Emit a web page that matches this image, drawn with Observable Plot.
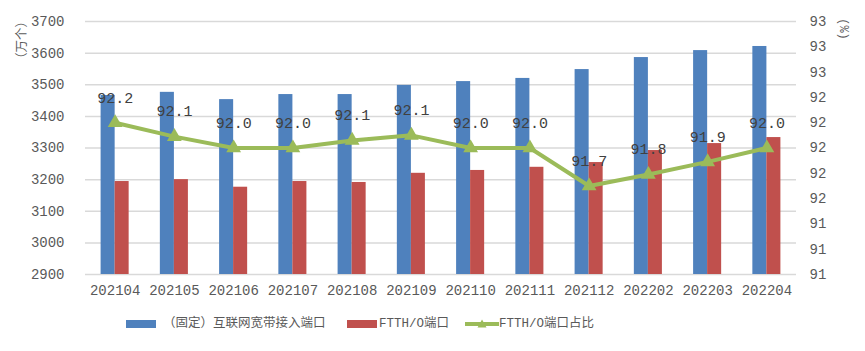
<!DOCTYPE html>
<html>
<head>
<meta charset="utf-8">
<script src="https://cdn.jsdelivr.net/npm/d3@7"></script>
<script src="https://cdn.jsdelivr.net/npm/@observablehq/plot@0.6"></script>
<style>
  body { margin: 0; background: #fff; }
  #wrap { width: 865px; position: relative; }
  #legend { position: relative; width: 865px; height: 46px; font-family: "Liberation Mono", "Noto Sans CJK SC", sans-serif; font-size: 12.5px; color: #595959; }
  #legend .sw { position: absolute; }
  #legend .lb { position: absolute; line-height: 14px; white-space: nowrap; }
  .atitle { position: absolute; white-space: nowrap; color: #595959; line-height: 14px; transform-origin: center center; }
</style>
</head>
<body>
<div id="wrap"><div id="chart"></div><div id="legend"></div></div>
<script>
const months = ["202104","202105","202106","202107","202108","202109","202110","202111","202112","202202","202203","202204"];
const broadband = [3466, 3476, 3453, 3469, 3469, 3498, 3510, 3520, 3548, 3586, 3608, 3621];
const ftth = [3194, 3200, 3176, 3194, 3191, 3220, 3229, 3239, 3254, 3292, 3314, 3333];
const ratio = [92.20, 92.09, 92.00, 92.00, 92.06, 92.10, 92.00, 92.00, 91.70, 91.79, 91.89, 92.00];
const leftTicks = [2900, 3000, 3100, 3200, 3300, 3400, 3500, 3600, 3700];
const rightTicks = [91.0, 91.2, 91.4, 91.6, 91.8, 92.0, 92.2, 92.4, 92.6, 92.8, 93.0];
const seriesNames = ["（固定）互联网宽带接入端口", "FTTH/O端口", "FTTH/O端口占比"];
const leftTitle = "（万个）";
const rightTitle = "(%)";

const colors = ["#4F81BD", "#C0504D", "#9BBB59"];
const L0 = 2900, L1 = 3700, R0 = 91, R1 = 93;
const toLeft = r => L0 + (r - R0) / (R1 - R0) * (L1 - L0);
const fromLeft = v => R0 + (v - L0) / (L1 - L0) * (R1 - R0);

const rows = months.map((m, i) => ({month: m, broadband: broadband[i], ftth: ftth[i], ratio: ratio[i]}));
const fmt1 = d3.format(".1f");
const fmt0 = d3.format(".0f");

const chart = Plot.plot({
  width: 865, height: 305,
  marginLeft: 85, marginRight: 69, marginTop: 21, marginBottom: 31,
  x: {type: "band", domain: months, padding: 0, round: false, label: null},
  y: {domain: [L0, L1], label: null},
  style: {fontFamily: "Liberation Mono, DejaVu Sans Mono, monospace", fontSize: "14px", color: "#595959", background: "white", overflow: "visible"},
  marks: [
    Plot.gridY(leftTicks, {stroke: "#D9D9D9", strokeOpacity: 1, strokeWidth: 1.5}),
    Plot.axisY({ticks: leftTicks, tickSize: 0, tickPadding: 21, label: null, fill: "#595959", tickFormat: d3.format("d")}),
    Plot.axisY(rightTicks.map(toLeft), {anchor: "right", tickSize: 0, tickPadding: 13, label: null, fill: "#595959", tickFormat: d => fmt0(fromLeft(d))}),
    Plot.axisX({tickSize: 0, tickPadding: 11, label: null, fill: "#595959"}),
    Plot.barY(rows, {x: "month", y1: L0, y2: "broadband", fill: colors[0], insetLeft: 15.6, insetRight: 29.6}),
    Plot.barY(rows, {x: "month", y1: L0, y2: "ftth", fill: colors[1], insetLeft: 29.6, insetRight: 15.6}),
    Plot.line(rows, {x: "month", y: d => toLeft(d.ratio), stroke: colors[2], strokeWidth: 4}),
    Plot.dot(rows, {x: "month", y: d => toLeft(d.ratio), symbol: "triangle", r: 5.5, fill: colors[2], stroke: null}),
    Plot.text(rows, {x: "month", y: d => toLeft(d.ratio), text: d => fmt1(d.ratio), dy: -25, fill: "#404040", fontSize: 15})
  ]
});
document.getElementById("chart").appendChild(chart);

// axis titles (rotated, positioned over the chart)
const wrap = document.getElementById("wrap");
function addTitle(txt, cx, cy, rot, font, size) {
  const d = document.createElement("div");
  d.className = "atitle";
  d.textContent = txt;
  d.style.fontFamily = font;
  d.style.fontSize = size + "px";
  wrap.appendChild(d);
  const w = d.offsetWidth, h = d.offsetHeight;
  d.style.left = (cx - w / 2) + "px";
  d.style.top = (cy - h / 2) + "px";
  d.style.transform = "rotate(" + rot + "deg)";
}
addTitle(leftTitle, 21, 40, -90, "Noto Sans CJK SC", 12.5);
addTitle(rightTitle, 843, 29, 90, "Liberation Mono", 12);

// legend
const legend = document.getElementById("legend");
const items = [
  {swLeft: 126, lbLeft: 163, type: "bar"},
  {swLeft: 347, lbLeft: 379, type: "bar"},
  {swLeft: 465, lbLeft: 499, type: "line"}
];
items.forEach((it, i) => {
  const cy = 18.5;
  if (it.type === "bar") {
    const s = document.createElement("div");
    s.className = "sw";
    s.style.left = it.swLeft + "px"; s.style.top = (cy - 4) + "px";
    s.style.width = "30px"; s.style.height = "8px"; s.style.background = colors[i];
    legend.appendChild(s);
  } else {
    const ns = "http://www.w3.org/2000/svg";
    const svg = document.createElementNS(ns, "svg");
    svg.setAttribute("width", 34); svg.setAttribute("height", 14);
    svg.style.position = "absolute"; svg.style.left = it.swLeft + "px"; svg.style.top = (cy - 7) + "px";
    const ln = document.createElementNS(ns, "line");
    ln.setAttribute("x1", 0); ln.setAttribute("x2", 34); ln.setAttribute("y1", 7); ln.setAttribute("y2", 7);
    ln.setAttribute("stroke", colors[i]); ln.setAttribute("stroke-width", 4);
    svg.appendChild(ln);
    const tri = document.createElementNS(ns, "path");
    tri.setAttribute("d", "M17,2.5L21.5,10.5L12.5,10.5Z");
    tri.setAttribute("fill", colors[i]);
    svg.appendChild(tri);
    legend.appendChild(svg);
  }
  const t = document.createElement("div");
  t.className = "lb";
  t.style.left = it.lbLeft + "px"; t.style.top = (cy - 7) + "px";
  t.textContent = seriesNames[i];
  legend.appendChild(t);
});
</script>
</body>
</html>
